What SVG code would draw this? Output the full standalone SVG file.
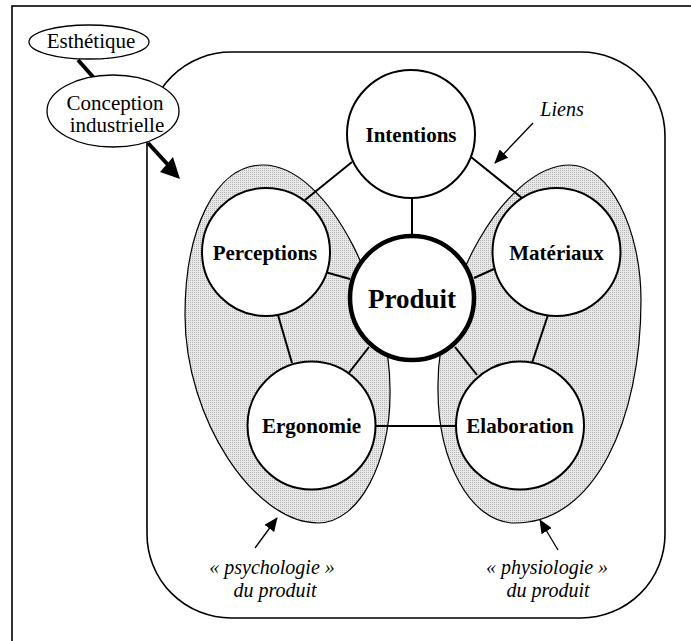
<svg xmlns="http://www.w3.org/2000/svg" width="691" height="641" viewBox="0 0 691 641">
<style>
.bg{fill:#ffffff}
.frame{fill:none;stroke:#000;stroke-width:1.6}
.zone{fill:url(#dots);stroke:#000;stroke-width:1.2}
.node{fill:#fff;stroke:#000;stroke-width:2}
.main{fill:#fff;stroke:#000;stroke-width:4.5}
.link{stroke:#000;stroke-width:2;fill:none}
.thick{stroke:#000;stroke-width:4;fill:none}
.ptr{stroke:#000;stroke-width:1.3;fill:none}
.lbl{font-family:"Liberation Serif","Times New Roman",serif;font-weight:bold;font-size:21px;text-anchor:middle;fill:#000}
.big{font-size:27px}
.txt{font-family:"Liberation Serif","Times New Roman",serif;font-size:21px;text-anchor:middle;fill:#000}
.it{font-style:italic;font-size:20px}
</style>
<defs>
<pattern id="dots" patternUnits="userSpaceOnUse" width="2" height="2">
<rect width="2" height="2" fill="#e9e9e9"/>
<rect width="1" height="1" fill="#b4b4b4"/>
</pattern>
<marker id="ah" markerUnits="userSpaceOnUse" viewBox="0 0 14 12" refX="13" refY="6" markerWidth="14" markerHeight="12" orient="auto">
<path d="M0,0 L14,6 L0,12 Z" fill="#000"/>
</marker>
</defs>
<rect class="bg" x="0" y="0" width="691" height="641"/>
<rect class="frame" x="12" y="6" width="720" height="700"/>
<rect id="produit-frame" class="frame" x="147" y="52" width="518" height="566" rx="84" ry="84"/>
<g id="zone-psychologie">
<path class="zone" d="M263,165 C330,165 392,300 390,395 C390,460 360,523 318,523 C255,523 185,420 185,315 C185,230 215,165 263,165 Z"/>
</g>
<g id="zone-physiologie">
<path class="zone" d="M570,165 C610,165 641,230 641,300 C641,420 595,523 515,523 C470,523 438,460 438,390 C436,290 505,165 570,165 Z"/>
</g>
<g id="connectors">
<line class="link" x1="305" y1="200" x2="352" y2="162"/>
<line class="link" x1="471" y1="157" x2="522" y2="198"/>
<line class="link" x1="412" y1="197" x2="412" y2="236"/>
<line class="link" x1="325" y1="272" x2="350" y2="279"/>
<line class="link" x1="474" y1="278" x2="494" y2="269"/>
<line class="link" x1="278" y1="315" x2="292" y2="363"/>
<line class="link" x1="348" y1="374" x2="369" y2="347"/>
<line class="link" x1="455" y1="347" x2="477" y2="375"/>
<line class="link" x1="532" y1="363" x2="548" y2="315"/>
<line class="link" x1="375" y1="426" x2="457" y2="426"/>
<line class="thick" x1="78" y1="60" x2="94" y2="78"/>
<line class="thick" x1="148" y1="143" x2="170" y2="167"/>
<path d="M180,179 L160,172 L173,157 Z" fill="#000"/>
<line class="ptr" x1="533" y1="123" x2="495" y2="163" marker-end="url(#ah)"/>
<line class="ptr" x1="255" y1="548" x2="277" y2="518" marker-end="url(#ah)"/>
<line class="ptr" x1="558" y1="550" x2="540" y2="520" marker-end="url(#ah)"/>
</g>
<g id="esthetique">
<ellipse class="node" style="stroke-width:1.3" cx="89" cy="42" rx="60" ry="17"/>
<text class="txt" x="91" y="48">Esthétique</text>
</g>
<g id="conception">
<ellipse class="node" style="stroke-width:1.3" cx="113" cy="111" rx="66" ry="36"/>
<text class="txt" x="115" y="110">Conception</text>
<text class="txt" x="117" y="132">industrielle</text>
</g>
<g id="intentions">
<circle class="node" cx="411" cy="134" r="64"/>
<text class="lbl" x="411" y="142">Intentions</text>
</g>
<g id="perceptions">
<circle class="node" cx="266" cy="252" r="64"/>
<text class="lbl" x="265" y="260">Perceptions</text>
</g>
<g id="materiaux">
<circle class="node" cx="556.5" cy="252" r="64"/>
<text class="lbl" x="556.5" y="260">Matériaux</text>
</g>
<g id="produit">
<circle class="main" cx="412" cy="298" r="62"/>
<text class="lbl big" x="412" y="308">Produit</text>
</g>
<g id="ergonomie">
<circle class="node" cx="311.5" cy="425.5" r="64"/>
<text class="lbl" x="311.5" y="433">Ergonomie</text>
</g>
<g id="elaboration">
<circle class="node" cx="520" cy="425.5" r="64"/>
<text class="lbl" x="520" y="433">Elaboration</text>
</g>
<g id="labels">
<text class="txt it" x="562" y="116">Liens</text>
<text class="txt it" x="272" y="574">« psychologie »</text>
<text class="txt it" x="275" y="597">du produit</text>
<text class="txt it" x="547" y="574">« physiologie »</text>
<text class="txt it" x="548" y="597">du produit</text>
</g>
</svg>
